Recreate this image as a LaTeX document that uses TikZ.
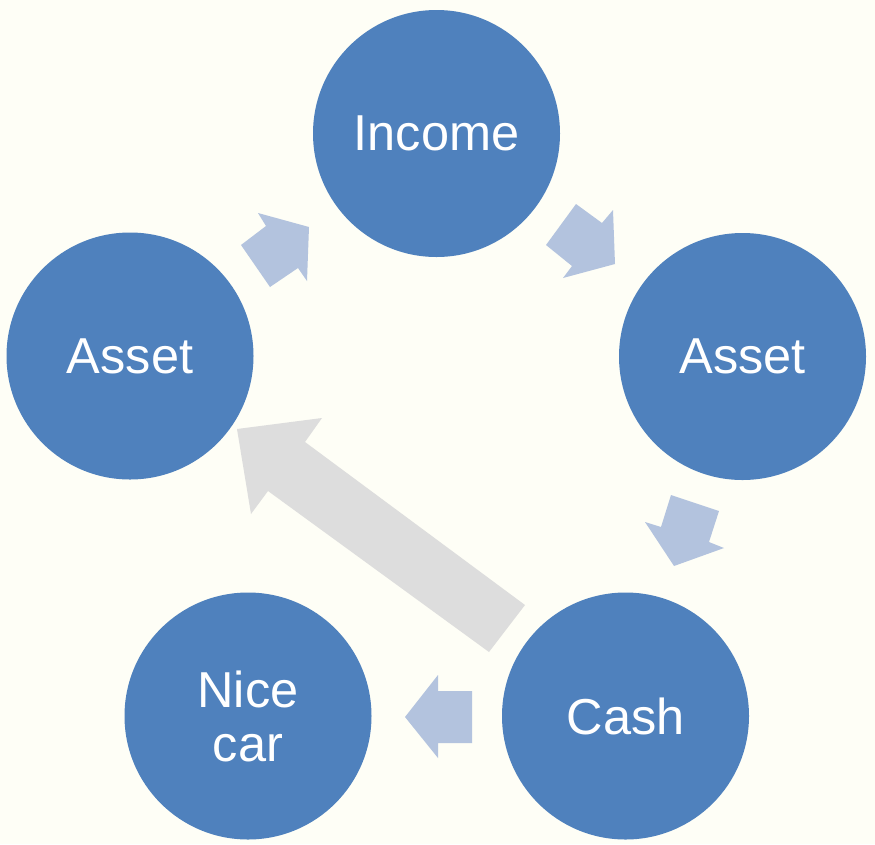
\documentclass[tikz,border=0pt]{standalone}
\usepackage{fontspec}
\setmainfont{Liberation Sans}
\definecolor{bg}{HTML}{FEFEF6}
\definecolor{circ}{HTML}{4F81BD}
\definecolor{barrow}{HTML}{B3C3DE}
\definecolor{garrow}{HTML}{DDDDDD}
\tikzset{
  bubble/.style={circle, fill=circ, draw=none, minimum size=247pt, inner sep=0pt,
    text=white, font=\fontsize{50.5}{54}\selectfont, align=center},
  blockarrow/.style={fill=barrow, draw=none},
  bigarrow/.style={fill=garrow, draw=none}
}
\begin{document}
\begin{tikzpicture}[x=1pt,y=-1pt]
\fill[bg] (0,0) rectangle (875,844);
\useasboundingbox (0,0) rectangle (875,844);
% block arrows
\fill[bigarrow] (237,429) -- (322,418) -- (305,442) -- (525,605) -- (489,652) -- (268,491) -- (251,514) -- cycle;
\fill[blockarrow] (309,227) -- (258,213) -- (266,226) -- (241,245) -- (270,287) -- (298,268) -- (307,281) -- cycle;
\fill[blockarrow] (615,264) -- (563,278) -- (572,266) -- (546,245) -- (576,204) -- (602,223) -- (613,210) -- cycle;
\fill[blockarrow] (674,566) -- (645,522) -- (661,527) -- (671,495) -- (719,511) -- (709,542) -- (724,548) -- cycle;
\fill[blockarrow] (405,717) -- (438,675) -- (438,691) -- (472,691) -- (472,743) -- (438,743) -- (438,758) -- cycle;
% circles
\node[bubble] (income) at (436.5,133.5) {Income};
\node[bubble] (assetR) at (742.5,356.5) {Asset};
\node[bubble] (cash) at (625.5,716) {Cash};
\node[bubble] (car) at (248,716) {Nice\\car};
\node[bubble] (assetL) at (130,356) {Asset};
\end{tikzpicture}
\end{document}
